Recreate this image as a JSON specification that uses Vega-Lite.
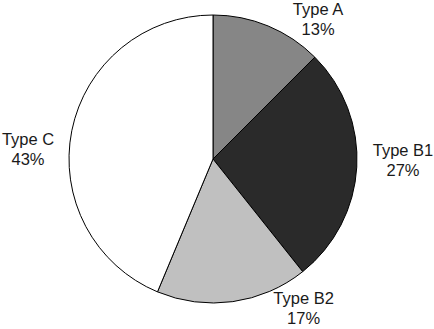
{
  "$schema": "https://vega.github.io/schema/vega-lite/v6.json",
  "width": 416,
  "height": 308,
  "padding": {"left": 5, "top": 5, "right": 13, "bottom": 16},
  "autosize": {"type": "none"},
  "background": "white",
  "config": {"view": {"stroke": null}},
  "resolve": {"scale": {"theta": "independent", "radius": "independent", "color": "independent"}},
  "layer": [
    {
      "data": {"values": [
        {"type": "Type A", "pct": 12.5, "order": 1},
        {"type": "Type B1", "pct": 26.8, "order": 2},
        {"type": "Type B2", "pct": 17.0, "order": 3},
        {"type": "Type C", "pct": 43.7, "order": 4}
      ]},
      "mark": {"type": "arc", "outerRadius": 144, "stroke": "black", "strokeWidth": 1},
      "encoding": {
        "theta": {"field": "pct", "type": "quantitative", "stack": true},
        "order": {"field": "order", "type": "quantitative"},
        "color": {"field": "type", "type": "nominal", "legend": null,
          "scale": {"domain": ["Type A", "Type B1", "Type B2", "Type C"],
                    "range": ["#868686", "#2a2a2a", "#c0c0c0", "#ffffff"]}}
      }
    },
    {
      "data": {"values": [
        {"label": "Type A\n13%", "angle": 37.0, "dist": 174.6},
        {"label": "Type B1\n27%", "angle": 90.5, "dist": 190},
        {"label": "Type B2\n17%", "angle": 148.8, "dist": 174.8},
        {"label": "Type C\n43%", "angle": 272.8, "dist": 185.2}
      ]},
      "mark": {"type": "text", "font": "Liberation Sans", "fontSize": 16.5, "lineHeight": 20, "lineBreak": "\n", "align": "center", "baseline": "middle", "dy": -10, "color": "#1a1a1a"},
      "encoding": {
        "theta": {"field": "angle", "type": "quantitative", "stack": null, "scale": {"domain": [0, 360], "range": [0, 6.283185307]}},
        "radius": {"field": "dist", "type": "quantitative", "scale": {"type": "linear", "domain": [0, 200], "range": [0, 200], "zero": true}},
        "text": {"field": "label"}
      }
    }
  ]
}
